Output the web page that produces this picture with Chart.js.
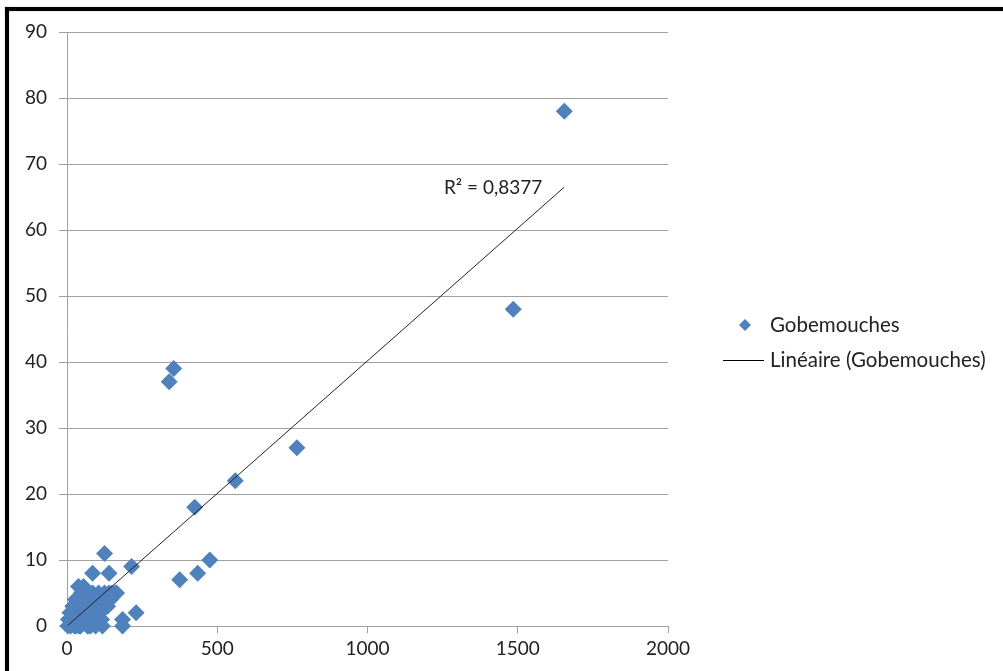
<!DOCTYPE html>
<html>
<head>
<meta charset="utf-8">
<script src="https://cdn.jsdelivr.net/npm/chart.js@4.4.1/dist/chart.umd.min.js"></script>
<style>
html,body{margin:0;padding:0;background:#fff;}
#wrap{position:relative;width:1003px;height:671px;overflow:hidden;}
#frameTop{position:absolute;left:5px;top:7px;width:998px;height:4px;background:#000;box-shadow:0 0 1px #666;}
#frameLeft{position:absolute;left:5px;top:7px;width:4px;height:664px;background:#000;box-shadow:0 0 1px #666;}
canvas{position:absolute;left:0;top:0;}
</style>
</head>
<body>
<div id="wrap">
<canvas id="c" width="1003" height="671"></canvas>
<div id="frameTop"></div>
<div id="frameLeft"></div>
</div>
<script>
const pointsX = [1655, 1485, 765, 560, 425, 475, 435, 375, 340, 355, 215, 230, 185, 185, 125, 85, 140,
  3, 8, 12, 18, 22, 25, 30, 35, 38, 42, 45, 48, 52, 55, 60, 62, 65, 70, 72, 75, 80, 82, 85, 90, 92, 95,
  100, 102, 105, 110, 112, 118, 120, 125, 130, 135, 140, 145, 150, 160, 10, 28, 58, 70, 68, 15, 5, 40, 20,
  20, 50, 78, 88, 35, 60, 30, 115, 165, 55];
const pointsY = [78, 48, 27, 22, 18, 10, 8, 7, 37, 39, 9, 2, 1, 0, 11, 8, 8,
  0, 1, 0, 2, 1, 0, 2, 1, 6, 3, 0, 5, 2, 4, 1, 3, 5, 0, 2, 4, 1, 3, 5, 2, 4, 0,
  3, 1, 5, 2, 4, 0, 3, 5, 4, 3, 5, 4, 5, 5, 2, 4, 5, 5, 0, 1, 1, 0, 3,
  3, 1, 0, 1, 4, 2, 0, 1, 5, 6];
const trendX = [4, 1655];
const trendY = [0.15, 66.5];
const xTicks = [0, 500, 1000, 1500, 2000];
const yTicks = [0, 10, 20, 30, 40, 50, 60, 70, 80, 90];
const seriesName = 'Gobemouches';
const trendName = 'Linéaire (Gobemouches)';
const r2Label = 'R² = 0,8377';

const FONT = 'Lato, "Open Sans", sans-serif';
const BLUE = '#4F81BD';
const GRID = '#a0a0a0';

const scatterData = pointsX.map((x, i) => ({x: x, y: pointsY[i]}));
const trendData = trendX.map((x, i) => ({x: x, y: trendY[i]}));

const overlay = {
  id: 'overlay',
  afterDraw(chart) {
    const ctx = chart.ctx;
    const xs = chart.scales.x, ys = chart.scales.y;
    ctx.save();
    ctx.fillStyle = '#222';
    ctx.font = '19px ' + FONT;
    ctx.textAlign = 'right';
    ctx.textBaseline = 'middle';
    ctx.fillText(r2Label, xs.getPixelForValue(trendX[1]) - 22, ys.getPixelForValue(trendY[1]) + 1);
    // Legend
    const lx = 745, ly1 = 325, ly2 = 360;
    ctx.fillStyle = BLUE;
    ctx.beginPath();
    const s = 6;
    ctx.moveTo(lx, ly1 - s); ctx.lineTo(lx + s, ly1); ctx.lineTo(lx, ly1 + s); ctx.lineTo(lx - s, ly1);
    ctx.closePath(); ctx.fill();
    ctx.strokeStyle = '#000'; ctx.lineWidth = 1;
    ctx.beginPath(); ctx.moveTo(723, ly2 + 0.5); ctx.lineTo(764, ly2 + 0.5); ctx.stroke();
    ctx.fillStyle = '#222';
    ctx.textAlign = 'left';
    ctx.font = '20.5px ' + FONT;
    ctx.fillText(seriesName, 770, ly1);
    ctx.fillText(trendName, 770, ly2);
    ctx.restore();
  }
};

new Chart(document.getElementById('c'), {
  type: 'scatter',
  data: {
    datasets: [
      {
        label: seriesName,
        data: scatterData,
        pointStyle: 'rectRot',
        pointRadius: 8.5,
        pointHoverRadius: 8.5,
        backgroundColor: BLUE,
        borderColor: BLUE,
        borderWidth: 0,
        clip: false,
        order: 2
      },
      {
        label: trendName,
        type: 'line',
        data: trendData,
        borderColor: '#222',
        borderWidth: 1,
        pointRadius: 0,
        fill: false,
        order: 1
      }
    ]
  },
  options: {
    responsive: false,
    animation: false,
    events: [],
    layout: {padding: {left: 0, top: 32, right: 335, bottom: 0}},
    plugins: {legend: {display: false}, tooltip: {enabled: false}},
    scales: {
      x: {
        type: 'linear', min: 0, max: 2000,
        afterBuildTicks: (sc) => { sc.ticks = xTicks.map(v => ({value: v})); },
        afterFit: (sc) => { sc.height = 45; },
        grid: {drawOnChartArea: false, drawTicks: true, tickLength: 7, color: GRID, tickColor: GRID},
        border: {display: true, color: GRID, width: 1},
        ticks: {color: '#222', font: {family: FONT, size: 19}, padding: 4, maxRotation: 0,
                callback: (v) => String(v)}
      },
      y: {
        type: 'linear', min: 0, max: 90,
        afterBuildTicks: (sc) => { sc.ticks = yTicks.map(v => ({value: v})); },
        afterFit: (sc) => { sc.width = 67; },
        grid: {drawOnChartArea: true, drawTicks: true, tickLength: 8, color: GRID, tickColor: GRID},
        border: {display: true, color: GRID, width: 1},
        ticks: {color: '#222', font: {family: FONT, size: 19}, padding: 12,
                callback: (v) => String(v)}
      }
    }
  },
  plugins: [overlay]
});
</script>
</body>
</html>
